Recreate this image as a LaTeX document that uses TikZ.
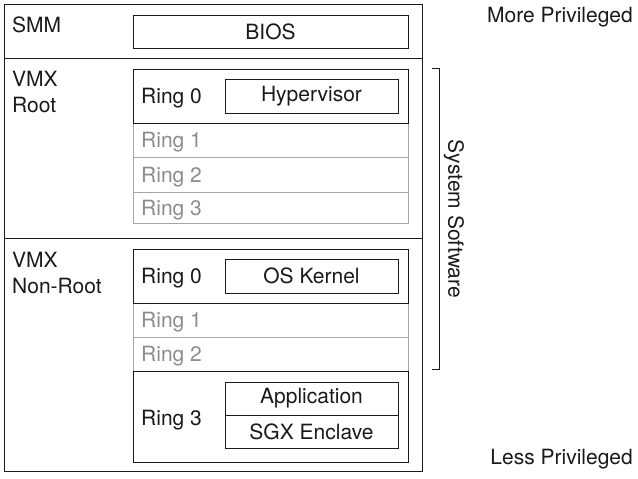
\documentclass[tikz,border=0pt]{standalone}
\usepackage{fontspec}
\setmainfont{TeX Gyre Heros}
\definecolor{ringgray}{HTML}{8C8C8C}
\definecolor{linegray}{HTML}{A6A6A6}
\definecolor{ink}{HTML}{1A1A1A}
\begin{document}
\begin{tikzpicture}[x=1pt,y=-1pt,
  every node/.style={font=\fontsize{21}{26}\selectfont, text=ink, inner sep=0pt},
  blk/.style={draw=ink, line width=1pt},
  gry/.style={draw=linegray, line width=0.9pt},
  lbl/.style={anchor=base west},
  glbl/.style={anchor=base west, text=ringgray},
  inbox/.style={draw=ink, line width=1pt, minimum width=173pt, minimum height=34pt}]
\useasboundingbox (0,0) rectangle (638,479);
% outer frame
\draw[blk] (4,4) rectangle (422,471);
\draw[blk] (4,58) -- (422,58);
\draw[blk] (4,238) -- (422,238);
% SMM
\node[lbl] (smm) at (12,32) {SMM};
\node[draw=ink, line width=1pt, minimum width=275pt, minimum height=33pt] (bios) at (270.5,31.5) {BIOS};
% VMX Root
\node[lbl] (vmx1) at (12,86) {VMX};
\node[lbl] (root) at (12,112) {Root};
\draw[gry] (133,123) rectangle (408,157);
\draw[gry] (133,157) rectangle (408,192);
\draw[gry] (133,192) rectangle (408,223);
\draw[blk] (133,69) rectangle (408,123);
\node[lbl] (r0a) at (141,103.5) {Ring 0};
\node[inbox] (hyp) at (311.5,96) {Hypervisor};
\node[glbl] (r1a) at (141,147.5) {Ring 1};
\node[glbl] (r2a) at (141,182) {Ring 2};
\node[glbl] (r3a) at (141,215) {Ring 3};
% VMX Non-Root
\node[lbl] (vmx2) at (12,267) {VMX};
\node[lbl] (nonroot) at (12,293) {Non-Root};
\draw[gry] (133,303) rectangle (408,337);
\draw[gry] (133,337) rectangle (408,371);
\draw[blk] (133,249) rectangle (408,303);
\draw[blk] (133,371) rectangle (408,462);
\node[lbl] (r0b) at (141,283.5) {Ring 0};
\node[inbox] (os) at (311.5,276) {OS Kernel};
\node[glbl] (r1b) at (141,327.5) {Ring 1};
\node[glbl] (r2b) at (141,361.5) {Ring 2};
\node[lbl] (r3b) at (141,425) {Ring 3};
\node[inbox, minimum height=33pt] (app) at (311.5,398.5) {Application};
\node[inbox, minimum height=33pt] (sgx) at (311.5,431.5) {SGX Enclave};
% bracket
\coordinate (bt) at (432,68);
\coordinate (bb) at (432,369);
\draw[draw=ink, line width=0.9pt] (bt) -- ++(7,0) |- (bb);
\node[rotate=-90] (sys) at (454,219) {System Software};
% privilege labels
\node[anchor=base east] (more) at (633,23) {More Privileged};
\node[anchor=base east] (less) at (633,464) {Less Privileged};
\end{tikzpicture}
\end{document}
